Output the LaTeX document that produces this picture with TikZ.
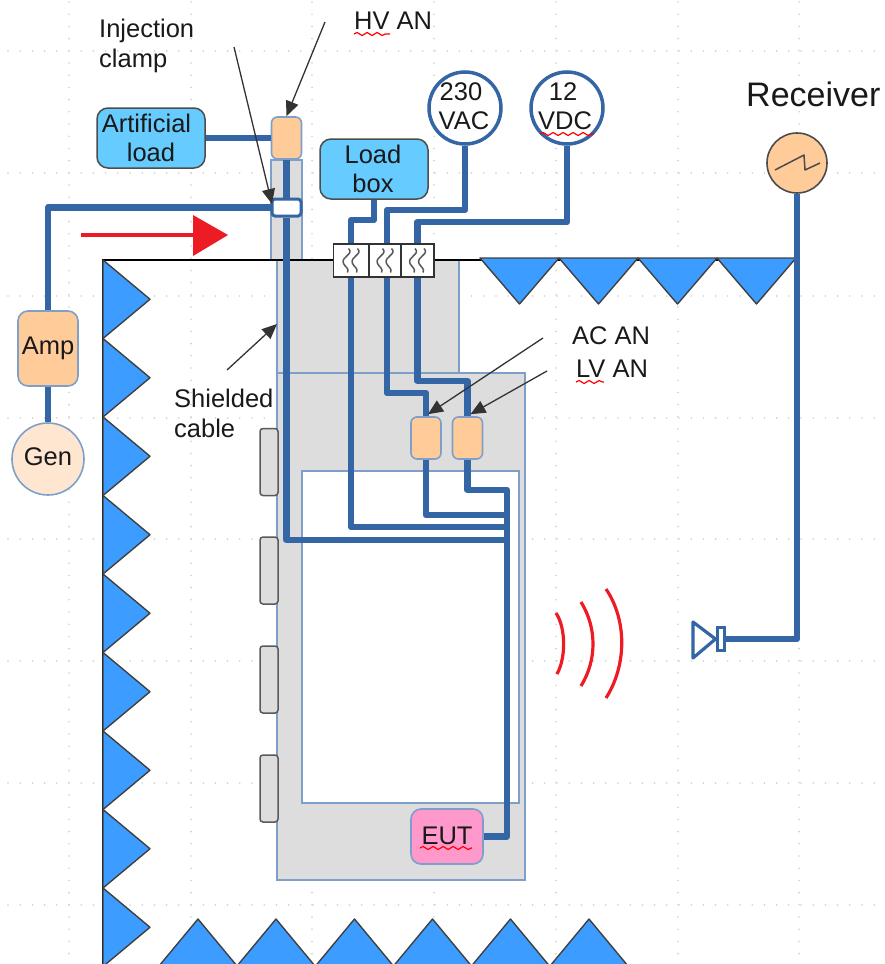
\documentclass[tikz,border=0pt]{standalone}
\usepackage{fontspec}
\setmainfont{Liberation Sans}
\usetikzlibrary{arrows.meta,calc,decorations.pathmorphing}
\definecolor{cablec}{HTML}{3465A4}
\definecolor{edgec}{HTML}{7F9FCB}
\definecolor{greyc}{HTML}{DDDDDD}
\definecolor{absc}{HTML}{3D9CFF}
\definecolor{skyc}{HTML}{66CCFF}
\definecolor{orangec}{HTML}{FFCC99}
\definecolor{peachc}{HTML}{FFE6D0}
\definecolor{pinkc}{HTML}{FF99CC}
\definecolor{redc}{HTML}{ED1C24}
\definecolor{dotc}{HTML}{CFCFCF}
\tikzset{
  x=1pt,y=-1pt,
  lbl/.style={font=\fontsize{25.5}{30}\selectfont,inner sep=0pt,align=center,text=black!90},
  lblleft/.style={lbl,align=left,anchor=west},
  cable/.style={draw=cablec,line width=6.5pt,line join=round},
  shield/.style={draw=edgec,line width=1.6pt,fill=greyc},
  absorber/.style={draw=black!75,line width=1.4pt,fill=absc,line join=round},
  wall/.style={draw=black,line width=1.6pt},
  ptr/.style={draw=black!80,line width=1.3pt,-{Triangle[length=15pt,width=13pt]}},
  bx/.style={rectangle,rounded corners=6pt,inner sep=0pt},
  ferrite/.style={bx,draw=edgec,line width=1.6pt,fill=orangec,minimum width=30pt,minimum height=42pt},
  loadb/.style={bx,rounded corners=11pt,draw=black!70,line width=1.5pt,fill=skyc,minimum width=108pt,minimum height=60pt},
  source/.style={circle,draw=cablec,line width=3.5pt,fill=white,minimum size=72pt,inner sep=0pt},
  pad/.style={bx,rounded corners=3pt,draw=black!65,line width=1.5pt,fill=greyc,minimum width=18pt,minimum height=67pt},
  filterbox/.style={rectangle,draw=black!80,line width=1.5pt,fill=white,inner sep=0pt,minimum height=33pt},
  squig/.style={draw=black!65,line width=1.5pt},
  wavy/.style={draw=red,line width=1.2pt,decorate,decoration={snake,segment length=10pt,amplitude=1.5pt}},
  wave/.style={draw=redc,line width=3.2pt},
}
\newcommand{\fsquig}[1]{%
  \foreach \dx in {-4.5,4.5}{
    \draw[squig] ($(#1)+(\dx+2,-12)$) .. controls ($(#1)+(\dx+8,-6)$) and ($(#1)+(\dx-6,-4)$) .. ($(#1)+(\dx-3,3)$) .. controls ($(#1)+(\dx-1,7)$) and ($(#1)+(\dx+3,8)$) .. ($(#1)+(\dx+1,12)$);
  }}
\begin{document}
\begin{tikzpicture}
\useasboundingbox (0,0) rectangle (884,964);
% drawing-grid dots
\foreach \gx in {69,191,312,434,556,678,799}{
  \foreach \k in {0,...,78}{
    \fill[dotc] (\gx,{\k*12.2+2}) circle (0.9pt);
  }
}
\foreach \gy in {51,173,296,418,539,661,783,905}{
  \foreach \k in {0,...,72}{
    \fill[dotc] ({\k*12.2+8},\gy) circle (0.9pt);
  }
}
% shielded enclosures
\path[shield] (271,160) rectangle (302,260);
\path[shield] (277,260) rectangle (459,373);
\path[shield] (277,373) rectangle (525,880);
\path[shield,fill=white] (302,471) rectangle (519,803);
% pads
\node[pad] (p1) at (269,462) {};
\node[pad] (p2) at (269,570.5) {};
\node[pad] (p3) at (269,679.5) {};
\node[pad] (p4) at (269,788.5) {};
% walls
\coordinate (wallA) at (103,964);
\coordinate (wallB) at (103,260);
\coordinate (wallC) at (795,260);
\draw[wall] (wallA) -- (wallB) -- (wallC);
% absorbers
\foreach \yy in {260,338.5,417,495.5,574,652.5,731,809.5,888}{
  \path[absorber] (103,\yy) -- (150,\yy+39.25) -- (103,\yy+78.5) -- cycle;
}
\foreach \xx in {480,559,638,717}{
  \path[absorber] (\xx,258) -- (\xx+39.5,304) -- (\xx+79,258) -- cycle;
}
\foreach \xx in {159,237,315.5,393.5,471.5,550}{
  \path[absorber] (\xx,966) -- (\xx+39,919) -- (\xx+78,966) -- cycle;
}
% nodes
\node[loadb] (artload) at (151,138) {};
\node[lbl] at (146.5,123.5) {Artificial};
\node[lbl] at (151,152) {load};
\node[loadb] (loadbox) at (374,169) {};
\node[lbl] at (373,154) {Load};
\node[lbl] at (373,183) {box};
\node[ferrite] (hvan) at (286.5,138) {};
\node[rectangle,rounded corners=3pt,draw=cablec,line width=3pt,fill=white,minimum width=29pt,minimum height=17pt,inner sep=0pt] (clamp) at (286.5,207.5) {};
\node[source] (vac) at (465,108) {};
\node[lbl] at (461,92) {230};
\node[lbl] at (464,121) {VAC};
\node[source] (vdc) at (567,108) {};
\node[lbl] at (563,92) {12};
\node[lbl] at (565,121) {VDC};
\node[circle,draw=black!70,line width=1.6pt,fill=orangec,minimum size=60pt,inner sep=0pt] (rx) at (797,163) {};
\node[ferrite,minimum height=75pt,minimum width=60pt,rounded corners=10pt] (amp) at (48,348.5) {};
\node[lbl] at (48,348) {Amp};
\node[circle,draw=edgec,line width=1.6pt,fill=peachc,minimum size=72pt,inner sep=0pt] (gen) at (48,459) {};
\node[lbl] at (48,457) {Gen};
\node[ferrite] (acan) at (426,438) {};
\node[ferrite] (lvan) at (467.5,438) {};
\node[bx,rounded corners=10pt,draw=edgec,line width=1.6pt,fill=pinkc,minimum width=72pt,minimum height=55pt] (eut) at (447,836.5) {};
\node[lbl] at (447,836) {EUT};
% filters
\node[filterbox,minimum width=35pt] (f1) at (351,260.5) {};
\node[filterbox,minimum width=32pt] (f2) at (385,260.5) {};
\node[filterbox,minimum width=33pt] (f3) at (417.5,260.5) {};
\coordinate (f2c) at (387,260.5);
% cables
\coordinate (merge) at (507,515);
\draw[cable] (gen.north) -- (amp.south);
\draw[cable] (amp.north) |- (clamp.west);
\draw[cable] (artload.east) -- (hvan.west);
\draw[cable] (hvan.south) -- (clamp.north);
\draw[cable] (clamp.south) -- (286.5,540) -- (507,540);
\draw[cable] (loadbox.south) -- (374,220) -- (351,220) -- (f1.north);
\draw[cable] (f1.south) -- (351,527) -- (507,527);
\draw[cable] (vac.south) -- (465,210) -- (387,210) -- (f2c |- f2.north);
\draw[cable] (f2c |- f2.south) -- (387,393) -- (426,393) -- (acan.north);
\draw[cable] (acan.south) -- (426,515) -- (merge);
\draw[cable] (vdc.south) -- (567,222) -- (417.5,222) -- (f3.north);
\draw[cable] (f3.south) -- (417.5,381) -- (467.5,381) -- (lvan.north);
\draw[cable] (lvan.south) -- (467.5,490) -- (507,490) -- (507,836.5) -- (eut.east);
\fsquig{f1}
\fsquig{f2}
\fsquig{f3}
% receiver
\draw[cable] (rx.south) -- (797,639) -- (724,639);
\node[rectangle,draw=cablec,line width=3pt,fill=white,minimum width=7pt,minimum height=23pt,inner sep=0pt] (antbar) at (720.5,639) {};
\coordinate (antA) at (693,622);
\coordinate (antB) at (693,658);
\draw[draw=cablec,line width=3.2pt,fill=white,line join=round] (antbar.west) -- (antA) -- (antB) -- cycle;
\draw[draw=black!70,line width=1.5pt,line join=round] (775,170) -- (804,155) -- (805,170) -- (820,163);
% red arrow
\coordinate (ra1) at (81,235);
\coordinate (ra2) at (195,235);
\draw[draw=redc,line width=4pt] (ra1) -- (ra2);
\fill[redc] (193,215) -- (228,235) -- (193,256) -- cycle;
% waves
\draw[wave] (556,613) .. controls (566,628) and (566,658) .. (557,674);
\draw[wave] (581,602) .. controls (597,628) and (597,660) .. (581,686);
\draw[wave] (606,589) .. controls (627,620) and (627,665) .. (606,698);
% pointers
\coordinate (pinj) at (234,47);
\coordinate (phv) at (325,22);
\coordinate (psh) at (227,370);
\coordinate (pac) at (543,338);
\coordinate (plv) at (547,371);
\draw[ptr] (pinj) -- (272,204);
\draw[ptr] (phv) -- (hvan.north);
\draw[ptr] (psh) -- (277,324);
\draw[ptr] (pac) -- ([shift={(2,-2)}]acan.north);
\draw[ptr] (plv) -- ([shift={(3,-2)}]lvan.north);
% labels
\node[lblleft] at (99,31) {Injection};
\node[lblleft] at (99,61) {clamp};
\node[lblleft] at (354,21) {HV AN};
\node[lblleft] at (174,398) {Shielded};
\node[lblleft] at (174,428) {cable};
\node[lblleft] at (572,336) {AC AN};
\node[lblleft] at (576,369) {LV AN};
\node[lblleft,font=\fontsize{34}{38}\selectfont] at (746,94) {Receiver};
% spell-check underlines
\draw[wavy] (354,34) -- (390,34);
\draw[wavy] (540,134) -- (594,134);
\draw[wavy] (420,848) -- (472,848);
\draw[wavy] (576,382) -- (604,382);
\end{tikzpicture}
\end{document}
